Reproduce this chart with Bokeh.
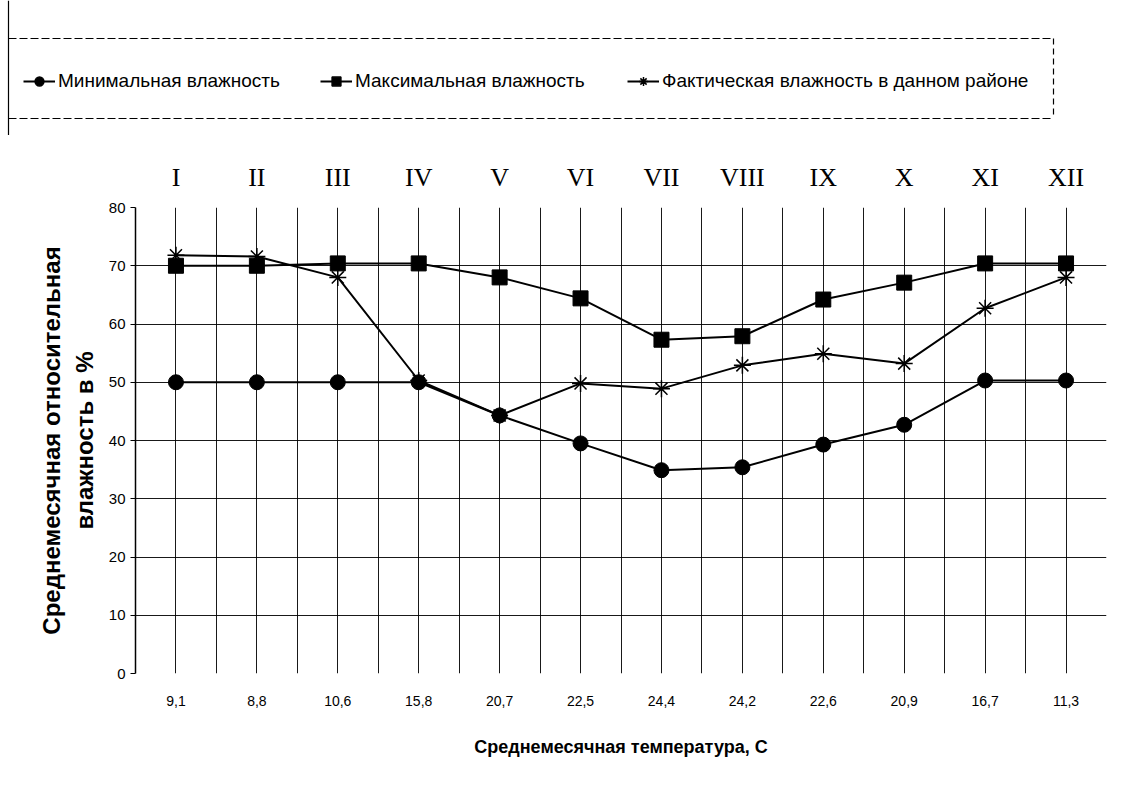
from bokeh.plotting import figure
from bokeh.layouts import column
from bokeh.models import FixedTicker, LinearAxis, Legend, LegendItem, Range1d
from bokeh.embed import file_html
from bokeh.resources import INLINE

# ---- data ----
temps = ["9,1", "8,8", "10,6", "15,8", "20,7", "22,5", "24,4", "24,2", "22,6", "20,9", "16,7", "11,3"]
months = ["I", "II", "III", "IV", "V", "VI", "VII", "VIII", "IX", "X", "XI", "XII"]
min_h = [50, 50, 50, 50, 44.3, 39.5, 34.9, 35.4, 39.3, 42.7, 50.3, 50.3]
max_h = [70, 70, 70.4, 70.4, 68.0, 64.4, 57.3, 57.9, 64.2, 67.1, 70.4, 70.4]
act_h = [71.8, 71.6, 68.0, 50.3, 44.3, 49.8, 48.9, 52.9, 54.9, 53.2, 62.7, 68.0]
y_ticks = [0, 10, 20, 30, 40, 50, 60, 70, 80]
labels = ["Минимальная влажность", "Максимальная влажность", "Фактическая влажность в данном районе"]
y_title = "Среднемесячная относительная\nвлажность в %"
x_title = "Среднемесячная температура, С"

xs = list(range(len(temps)))
markers = ["circle", "square", "asterisk"]

TOP_H = 135
W = 1128

# ---------- legend strip (pixel coordinates) ----------
top = figure(width=W, height=TOP_H, output_backend="svg", toolbar_location=None,
             x_range=Range1d(0, W), y_range=Range1d(0, TOP_H),
             min_border=0, min_border_left=0, min_border_right=0,
             min_border_top=0, min_border_bottom=0)
top.frame_align = False
top.axis.visible = False
top.grid.visible = False
top.outline_line_color = None
top.background_fill_color = "white"
top.border_fill_color = "white"

# dashed legend frame
top.line([8, 1053], [TOP_H - 38, TOP_H - 38], line_color="black", line_width=1.2, line_dash="8 3")
top.line([8, 1053], [TOP_H - 118, TOP_H - 118], line_color="black", line_width=1.2, line_dash="8 3")
top.line([1053, 1053], [TOP_H - 38, TOP_H - 118], line_color="black", line_width=1.2, line_dash="6 4")
top.line([8, 8], [0, TOP_H], line_color="black", line_width=1.2)

leg_x = [23, 320, 627]
for lab, mk, lx in zip(labels, markers, leg_x):
    lr = top.line([-100, -90], [-100, -100], line_color="black", line_width=2)
    sr = top.scatter([-100], [-100], marker=mk, size=12 if mk != "asterisk" else 14,
                     fill_color="black", line_color="black", line_width=1.5)
    lg = Legend(items=[LegendItem(label=lab, renderers=[lr, sr])],
                location=(lx, TOP_H - 81 - 11), padding=0, margin=0, spacing=0,
                label_standoff=3, glyph_width=32, glyph_height=22,
                border_line_color=None, background_fill_alpha=0,
                label_text_font="Liberation Sans", label_text_font_size="19px",
                label_text_color="black", label_text_baseline="middle")
    top.add_layout(lg, "center")

# ---------- main chart ----------
p = figure(width=W, height=796 - TOP_H, output_backend="svg", toolbar_location=None,
           x_range=Range1d(-0.5, len(temps) - 0.5), y_range=Range1d(0, 80),
           min_border_left=135, min_border_right=22, min_border_top=207 - TOP_H,
           min_border_bottom=123)
p.frame_align = False
p.outline_line_color = None
p.background_fill_color = "white"
p.border_fill_color = "white"

p.xgrid.ticker = FixedTicker(ticks=[i * 0.5 - 0.5 for i in range(2 * len(temps) + 1)])
p.ygrid.ticker = FixedTicker(ticks=y_ticks[:-1])
for g in (p.xgrid, p.ygrid):
    g.grid_line_color = "black"
    g.grid_line_width = 1
    g.grid_line_alpha = 0.9

xa = p.xaxis[0]
xa.ticker = FixedTicker(ticks=xs)
xa.major_label_overrides = {i: t for i, t in zip(xs, temps)}
xa.axis_line_color = None
xa.major_tick_line_color = None
xa.minor_tick_line_color = None
xa.major_label_standoff = 16
xa.major_label_text_font = "Liberation Sans"
xa.major_label_text_font_size = "14px"
xa.major_label_text_color = "black"
xa.axis_label = x_title
xa.axis_label_text_font = "Liberation Sans"
xa.axis_label_text_font_size = "18px"
xa.axis_label_text_font_style = "bold"
xa.axis_label_text_color = "black"
xa.axis_label_standoff = 28

ya = p.yaxis[0]
ya.ticker = FixedTicker(ticks=y_ticks)
ya.axis_line_color = "black"
ya.axis_line_width = 1.5
ya.major_tick_out = 5
ya.major_tick_in = 0
ya.major_tick_line_color = "black"
ya.minor_tick_line_color = None
ya.major_label_standoff = 5
ya.major_label_text_font = "Liberation Sans"
ya.major_label_text_font_size = "15px"
ya.major_label_text_color = "black"
ya.axis_label = y_title
ya.axis_label_text_font = "Liberation Sans"
ya.axis_label_text_font_size = "24px"
ya.axis_label_text_font_style = "bold"
ya.axis_label_text_color = "black"
ya.axis_label_standoff = 8

ra = LinearAxis(ticker=FixedTicker(ticks=xs),
                major_label_overrides={i: m for i, m in zip(xs, months)},
                axis_line_color=None, major_tick_line_color=None, minor_tick_line_color=None,
                major_label_standoff=10, major_label_text_font="Liberation Serif",
                major_label_text_font_size="26px", major_label_text_color="black")
p.add_layout(ra, "above")

p.line(xs, min_h, line_color="black", line_width=2)
p.scatter(xs, min_h, marker="circle", size=15, fill_color="black", line_color="black")
p.line(xs, max_h, line_color="black", line_width=2)
p.scatter(xs, max_h, marker="square", size=15, fill_color="black", line_color="black")
p.line(xs, act_h, line_color="black", line_width=2)
p.scatter(xs, act_h, marker="asterisk", size=17, line_color="black", line_width=1.5)

layout = column(top, p, spacing=0)
open("out.html", "w").write(file_html(layout, INLINE))
